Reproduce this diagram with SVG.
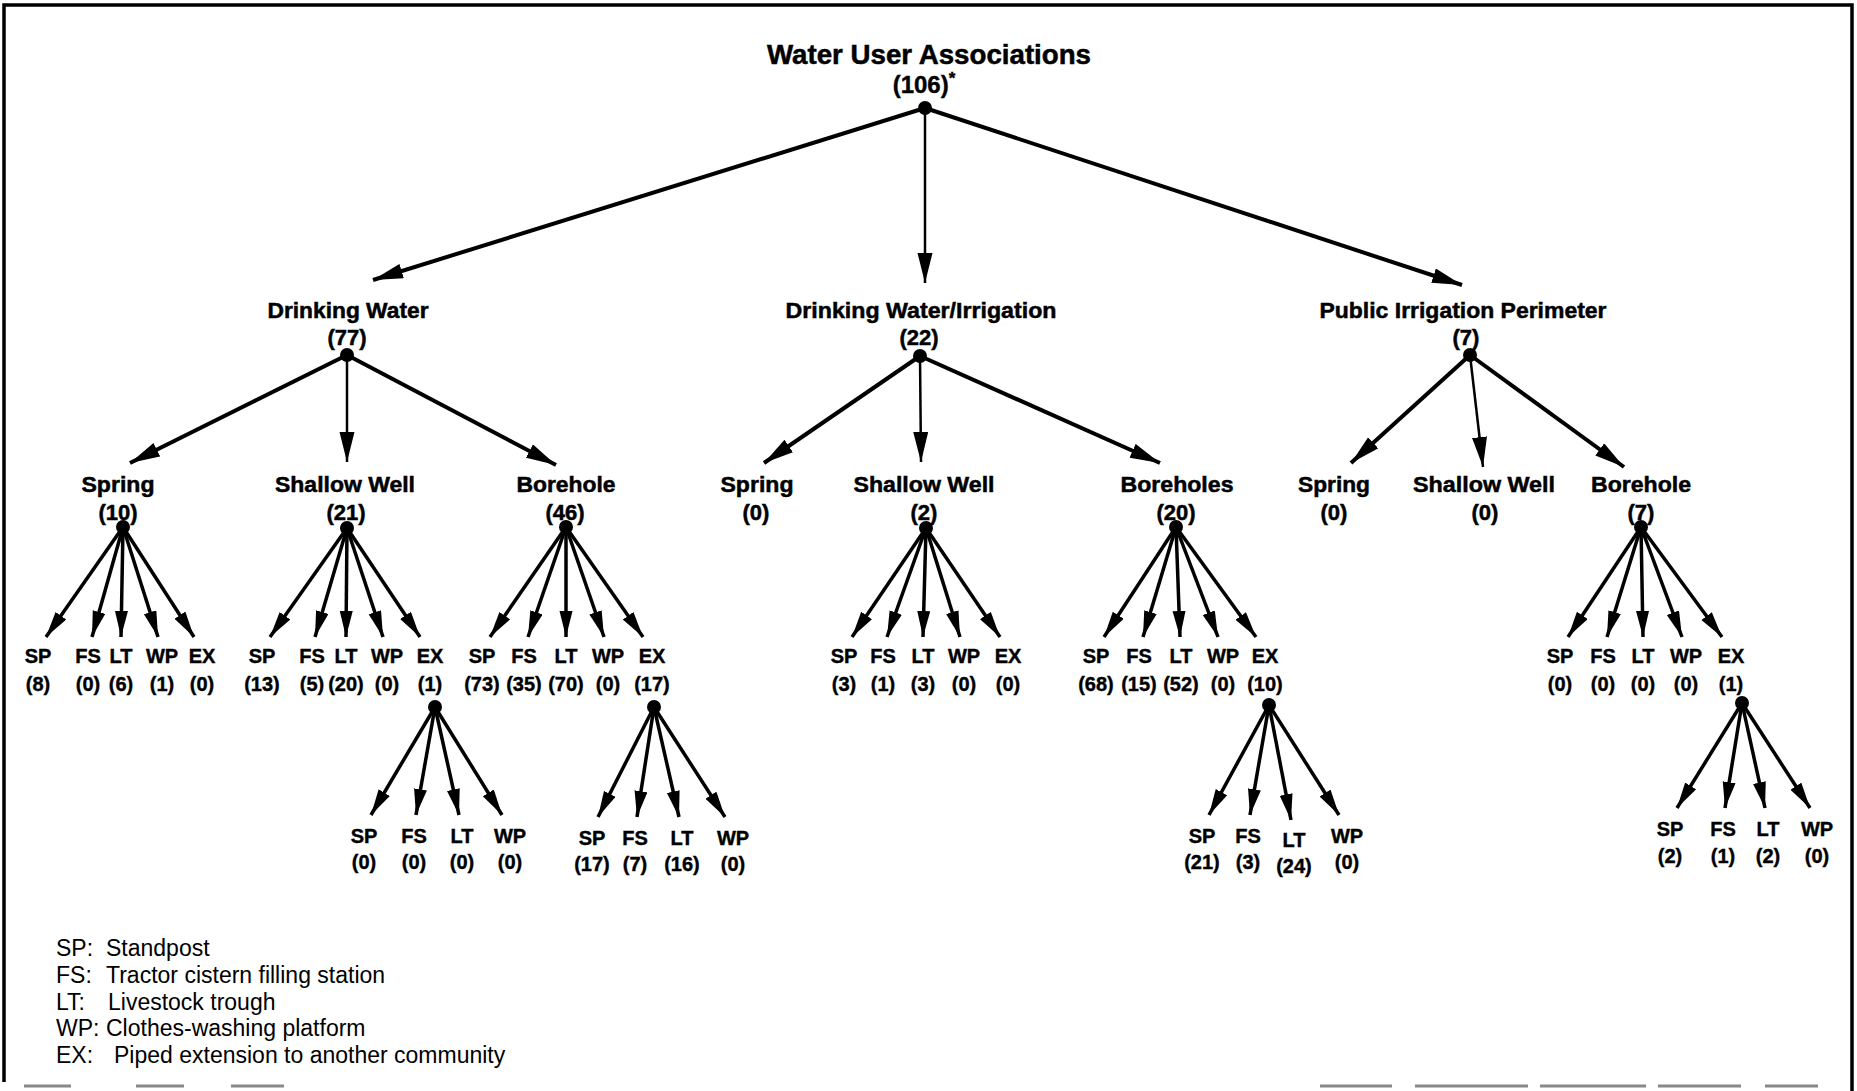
<svg xmlns="http://www.w3.org/2000/svg" width="1857" height="1091" viewBox="0 0 1857 1091">
<style>
text{font-family:"Liberation Sans",Arial,Helvetica,sans-serif;fill:#000;text-anchor:middle}
.t1{font-size:27px;font-weight:bold;stroke:#000;stroke-width:0.5}
.t2{font-size:24px;font-weight:bold;stroke:#000;stroke-width:0.4}
.lab{font-size:22px;font-weight:bold;stroke:#000;stroke-width:0.5}
.leaf{font-size:20px;font-weight:bold;stroke:#000;stroke-width:0.4}
.leg{font-size:23px;text-anchor:start}
.dot{fill:#000}
.c{stroke:#000;stroke-width:4;fill:none;marker-end:url(#ah)}
.cv{stroke:#000;stroke-width:2.5;fill:none;marker-end:url(#ah)}
.cl{stroke:#000;stroke-width:3.5;fill:none;marker-end:url(#ahs)}
.frame{stroke:#000;stroke-width:3.5;fill:none}
.frag{stroke:#888;stroke-width:3;fill:none}
</style>
<defs>
<marker id="ah" markerUnits="userSpaceOnUse" markerWidth="32" markerHeight="16" refX="30" refY="7.5" orient="auto">
<path d="M0,0 L30,7.5 L0,15 z" fill="#000"/>
</marker>
<marker id="ahs" markerUnits="userSpaceOnUse" markerWidth="28" markerHeight="14" refX="26" refY="6.5" orient="auto">
<path d="M0,0 L26,6.5 L0,13 z" fill="#000"/>
</marker>
</defs>
<rect width="1857" height="1091" fill="#fff"/>
<g id="frame">
<path class="frame" d="M4,1082 L4,5 L1852,5 L1852,1091"/>
<path class="frag" d="M24,1086 H71 M136,1086 H184 M231,1086 H284 M1320,1086 H1392 M1415,1086 H1528 M1540,1086 H1646 M1658,1086 H1741 M1765,1086 H1818"/>
</g>
<g id="connectors">
<line class="c" x1="925" y1="108" x2="373" y2="280"/>
<line class="cv" x1="925" y1="108" x2="925" y2="283"/>
<line class="c" x1="925" y1="108" x2="1462" y2="285"/>
<line class="c" x1="347" y1="355" x2="130" y2="463"/>
<line class="cv" x1="347" y1="355" x2="347" y2="462"/>
<line class="c" x1="347" y1="355" x2="556" y2="465"/>
<line class="c" x1="920" y1="356" x2="764" y2="463"/>
<line class="cv" x1="920" y1="356" x2="921" y2="462"/>
<line class="c" x1="920" y1="356" x2="1160" y2="463"/>
<line class="c" x1="1470" y1="355" x2="1351" y2="463"/>
<line class="cv" x1="1470" y1="355" x2="1483" y2="467"/>
<line class="c" x1="1470" y1="355" x2="1624" y2="467"/>
<line class="cl" x1="123" y1="527" x2="46" y2="637"/>
<line class="cl" x1="123" y1="527" x2="92" y2="637"/>
<line class="cl" x1="123" y1="527" x2="121" y2="637"/>
<line class="cl" x1="123" y1="527" x2="158" y2="637"/>
<line class="cl" x1="123" y1="527" x2="194" y2="637"/>
<line class="cl" x1="347" y1="528" x2="270" y2="637"/>
<line class="cl" x1="347" y1="528" x2="315" y2="637"/>
<line class="cl" x1="347" y1="528" x2="346" y2="637"/>
<line class="cl" x1="347" y1="528" x2="383" y2="637"/>
<line class="cl" x1="347" y1="528" x2="420" y2="637"/>
<line class="cl" x1="566" y1="527" x2="490" y2="637"/>
<line class="cl" x1="566" y1="527" x2="528" y2="637"/>
<line class="cl" x1="566" y1="527" x2="566" y2="637"/>
<line class="cl" x1="566" y1="527" x2="604" y2="637"/>
<line class="cl" x1="566" y1="527" x2="643" y2="637"/>
<line class="cl" x1="926" y1="528" x2="852" y2="637"/>
<line class="cl" x1="926" y1="528" x2="887" y2="637"/>
<line class="cl" x1="926" y1="528" x2="923" y2="637"/>
<line class="cl" x1="926" y1="528" x2="960" y2="637"/>
<line class="cl" x1="926" y1="528" x2="1000" y2="637"/>
<line class="cl" x1="1176" y1="527" x2="1104" y2="637"/>
<line class="cl" x1="1176" y1="527" x2="1143" y2="637"/>
<line class="cl" x1="1176" y1="527" x2="1180" y2="637"/>
<line class="cl" x1="1176" y1="527" x2="1218" y2="637"/>
<line class="cl" x1="1176" y1="527" x2="1256" y2="637"/>
<line class="cl" x1="1641" y1="527" x2="1568" y2="637"/>
<line class="cl" x1="1641" y1="527" x2="1607" y2="637"/>
<line class="cl" x1="1641" y1="527" x2="1643" y2="637"/>
<line class="cl" x1="1641" y1="527" x2="1682" y2="637"/>
<line class="cl" x1="1641" y1="527" x2="1722" y2="637"/>
<line class="cl" x1="435" y1="707" x2="371" y2="815"/>
<line class="cl" x1="435" y1="707" x2="416" y2="815"/>
<line class="cl" x1="435" y1="707" x2="459" y2="815"/>
<line class="cl" x1="435" y1="707" x2="502" y2="815"/>
<line class="cl" x1="654" y1="707" x2="598" y2="817"/>
<line class="cl" x1="654" y1="707" x2="637" y2="817"/>
<line class="cl" x1="654" y1="707" x2="679" y2="817"/>
<line class="cl" x1="654" y1="707" x2="725" y2="817"/>
<line class="cl" x1="1269" y1="705" x2="1209" y2="815"/>
<line class="cl" x1="1269" y1="705" x2="1250" y2="815"/>
<line class="cl" x1="1269" y1="705" x2="1291" y2="820"/>
<line class="cl" x1="1269" y1="705" x2="1339" y2="815"/>
<line class="cl" x1="1742" y1="703" x2="1677" y2="808"/>
<line class="cl" x1="1742" y1="703" x2="1725" y2="808"/>
<line class="cl" x1="1742" y1="703" x2="1765" y2="808"/>
<line class="cl" x1="1742" y1="703" x2="1810" y2="808"/>
</g>
<g id="root">
<text class="t1" x="929" y="64" textLength="324" lengthAdjust="spacingAndGlyphs">Water User Associations</text>
<text class="t2" x="924" y="93">(106)<tspan font-size="17" dy="-9">*</tspan></text>
<circle class="dot" cx="925" cy="108" r="7"/>
</g>
<g id="drinking-water">
<text class="lab" x="348" y="318" textLength="161" lengthAdjust="spacingAndGlyphs">Drinking Water</text>
<text class="lab" x="347" y="345">(77)</text>
<circle class="dot" cx="347" cy="355" r="7"/>
</g>
<g id="dw-irrigation">
<text class="lab" x="921" y="318" textLength="271" lengthAdjust="spacingAndGlyphs">Drinking Water/Irrigation</text>
<text class="lab" x="919" y="345">(22)</text>
<circle class="dot" cx="920" cy="356" r="7"/>
</g>
<g id="public-irrigation">
<text class="lab" x="1463" y="318" textLength="287" lengthAdjust="spacingAndGlyphs">Public Irrigation Perimeter</text>
<text class="lab" x="1466" y="345">(7)</text>
<circle class="dot" cx="1470" cy="355" r="7"/>
</g>
<g id="dw-spring">
<text class="lab" x="118" y="492" textLength="73" lengthAdjust="spacingAndGlyphs">Spring</text>
<text class="lab" x="118" y="520">(10)</text>
<circle class="dot" cx="123" cy="527" r="7"/>
</g>
<g id="dw-shallow">
<text class="lab" x="345" y="492" textLength="140" lengthAdjust="spacingAndGlyphs">Shallow Well</text>
<text class="lab" x="346" y="520">(21)</text>
<circle class="dot" cx="347" cy="528" r="7"/>
</g>
<g id="dw-borehole">
<text class="lab" x="566" y="492" textLength="99" lengthAdjust="spacingAndGlyphs">Borehole</text>
<text class="lab" x="565" y="520">(46)</text>
<circle class="dot" cx="566" cy="527" r="7"/>
</g>
<g id="dwi-spring">
<text class="lab" x="757" y="492" textLength="73" lengthAdjust="spacingAndGlyphs">Spring</text>
<text class="lab" x="756" y="520">(0)</text>
</g>
<g id="dwi-shallow">
<text class="lab" x="924" y="492" textLength="141" lengthAdjust="spacingAndGlyphs">Shallow Well</text>
<text class="lab" x="924" y="520">(2)</text>
<circle class="dot" cx="926" cy="528" r="7"/>
</g>
<g id="dwi-boreholes">
<text class="lab" x="1177" y="492" textLength="113" lengthAdjust="spacingAndGlyphs">Boreholes</text>
<text class="lab" x="1176" y="520">(20)</text>
<circle class="dot" cx="1176" cy="527" r="7"/>
</g>
<g id="pip-spring">
<text class="lab" x="1334" y="492" textLength="72" lengthAdjust="spacingAndGlyphs">Spring</text>
<text class="lab" x="1334" y="520">(0)</text>
</g>
<g id="pip-shallow">
<text class="lab" x="1484" y="492" textLength="142" lengthAdjust="spacingAndGlyphs">Shallow Well</text>
<text class="lab" x="1485" y="520">(0)</text>
</g>
<g id="pip-borehole">
<text class="lab" x="1641" y="492" textLength="100" lengthAdjust="spacingAndGlyphs">Borehole</text>
<text class="lab" x="1641" y="520">(7)</text>
<circle class="dot" cx="1641" cy="527" r="7"/>
</g>
<g id="leaves-dw-spring">
<text class="leaf" x="38" y="663">SP</text><text class="leaf" x="38" y="691">(8)</text>
<text class="leaf" x="88" y="663">FS</text><text class="leaf" x="88" y="691">(0)</text>
<text class="leaf" x="121" y="663">LT</text><text class="leaf" x="121" y="691">(6)</text>
<text class="leaf" x="162" y="663">WP</text><text class="leaf" x="162" y="691">(1)</text>
<text class="leaf" x="202" y="663">EX</text><text class="leaf" x="202" y="691">(0)</text>
</g>
<g id="leaves-dw-shallow">
<text class="leaf" x="262" y="663">SP</text><text class="leaf" x="262" y="691">(13)</text>
<text class="leaf" x="312" y="663">FS</text><text class="leaf" x="312" y="691">(5)</text>
<text class="leaf" x="346" y="663">LT</text><text class="leaf" x="346" y="691">(20)</text>
<text class="leaf" x="387" y="663">WP</text><text class="leaf" x="387" y="691">(0)</text>
<text class="leaf" x="430" y="663">EX</text><text class="leaf" x="430" y="691">(1)</text>
<circle class="dot" cx="435" cy="707" r="7"/>
</g>
<g id="leaves-dw-borehole">
<text class="leaf" x="482" y="663">SP</text><text class="leaf" x="482" y="691">(73)</text>
<text class="leaf" x="524" y="663">FS</text><text class="leaf" x="524" y="691">(35)</text>
<text class="leaf" x="566" y="663">LT</text><text class="leaf" x="566" y="691">(70)</text>
<text class="leaf" x="608" y="663">WP</text><text class="leaf" x="608" y="691">(0)</text>
<text class="leaf" x="652" y="663">EX</text><text class="leaf" x="652" y="691">(17)</text>
<circle class="dot" cx="654" cy="707" r="7"/>
</g>
<g id="leaves-dwi-shallow">
<text class="leaf" x="844" y="663">SP</text><text class="leaf" x="844" y="691">(3)</text>
<text class="leaf" x="883" y="663">FS</text><text class="leaf" x="883" y="691">(1)</text>
<text class="leaf" x="923" y="663">LT</text><text class="leaf" x="923" y="691">(3)</text>
<text class="leaf" x="964" y="663">WP</text><text class="leaf" x="964" y="691">(0)</text>
<text class="leaf" x="1008" y="663">EX</text><text class="leaf" x="1008" y="691">(0)</text>
</g>
<g id="leaves-dwi-boreholes">
<text class="leaf" x="1096" y="663">SP</text><text class="leaf" x="1096" y="691">(68)</text>
<text class="leaf" x="1139" y="663">FS</text><text class="leaf" x="1139" y="691">(15)</text>
<text class="leaf" x="1181" y="663">LT</text><text class="leaf" x="1181" y="691">(52)</text>
<text class="leaf" x="1223" y="663">WP</text><text class="leaf" x="1223" y="691">(0)</text>
<text class="leaf" x="1265" y="663">EX</text><text class="leaf" x="1265" y="691">(10)</text>
<circle class="dot" cx="1269" cy="705" r="7"/>
</g>
<g id="leaves-pip-borehole">
<text class="leaf" x="1560" y="663">SP</text><text class="leaf" x="1560" y="691">(0)</text>
<text class="leaf" x="1603" y="663">FS</text><text class="leaf" x="1603" y="691">(0)</text>
<text class="leaf" x="1643" y="663">LT</text><text class="leaf" x="1643" y="691">(0)</text>
<text class="leaf" x="1686" y="663">WP</text><text class="leaf" x="1686" y="691">(0)</text>
<text class="leaf" x="1731" y="663">EX</text><text class="leaf" x="1731" y="691">(1)</text>
<circle class="dot" cx="1742" cy="703" r="7"/>
</g>
<g id="leaves-dw-shallow-ex">
<text class="leaf" x="364" y="843">SP</text><text class="leaf" x="364" y="869">(0)</text>
<text class="leaf" x="414" y="843">FS</text><text class="leaf" x="414" y="869">(0)</text>
<text class="leaf" x="462" y="843">LT</text><text class="leaf" x="462" y="869">(0)</text>
<text class="leaf" x="510" y="843">WP</text><text class="leaf" x="510" y="869">(0)</text>
</g>
<g id="leaves-dw-borehole-ex">
<text class="leaf" x="592" y="845">SP</text><text class="leaf" x="592" y="871">(17)</text>
<text class="leaf" x="635" y="845">FS</text><text class="leaf" x="635" y="871">(7)</text>
<text class="leaf" x="682" y="845">LT</text><text class="leaf" x="682" y="871">(16)</text>
<text class="leaf" x="733" y="845">WP</text><text class="leaf" x="733" y="871">(0)</text>
</g>
<g id="leaves-dwi-boreholes-ex">
<text class="leaf" x="1202" y="843">SP</text><text class="leaf" x="1202" y="869">(21)</text>
<text class="leaf" x="1248" y="843">FS</text><text class="leaf" x="1248" y="869">(3)</text>
<text class="leaf" x="1294" y="847">LT</text><text class="leaf" x="1294" y="873">(24)</text>
<text class="leaf" x="1347" y="843">WP</text><text class="leaf" x="1347" y="869">(0)</text>
</g>
<g id="leaves-pip-borehole-ex">
<text class="leaf" x="1670" y="836">SP</text><text class="leaf" x="1670" y="863">(2)</text>
<text class="leaf" x="1723" y="836">FS</text><text class="leaf" x="1723" y="863">(1)</text>
<text class="leaf" x="1768" y="836">LT</text><text class="leaf" x="1768" y="863">(2)</text>
<text class="leaf" x="1817" y="836">WP</text><text class="leaf" x="1817" y="863">(0)</text>
</g>
<g id="legend">
<text class="leg" y="956"><tspan x="56">SP:</tspan><tspan x="106">Standpost</tspan></text>
<text class="leg" y="983"><tspan x="56">FS:</tspan><tspan x="106">Tractor cistern filling station</tspan></text>
<text class="leg" y="1010"><tspan x="56">LT:</tspan><tspan x="108">Livestock trough</tspan></text>
<text class="leg" y="1036"><tspan x="56">WP:</tspan><tspan x="106">Clothes-washing platform</tspan></text>
<text class="leg" y="1063"><tspan x="56">EX:</tspan><tspan x="114">Piped extension to another community</tspan></text>
</g>
</svg>
